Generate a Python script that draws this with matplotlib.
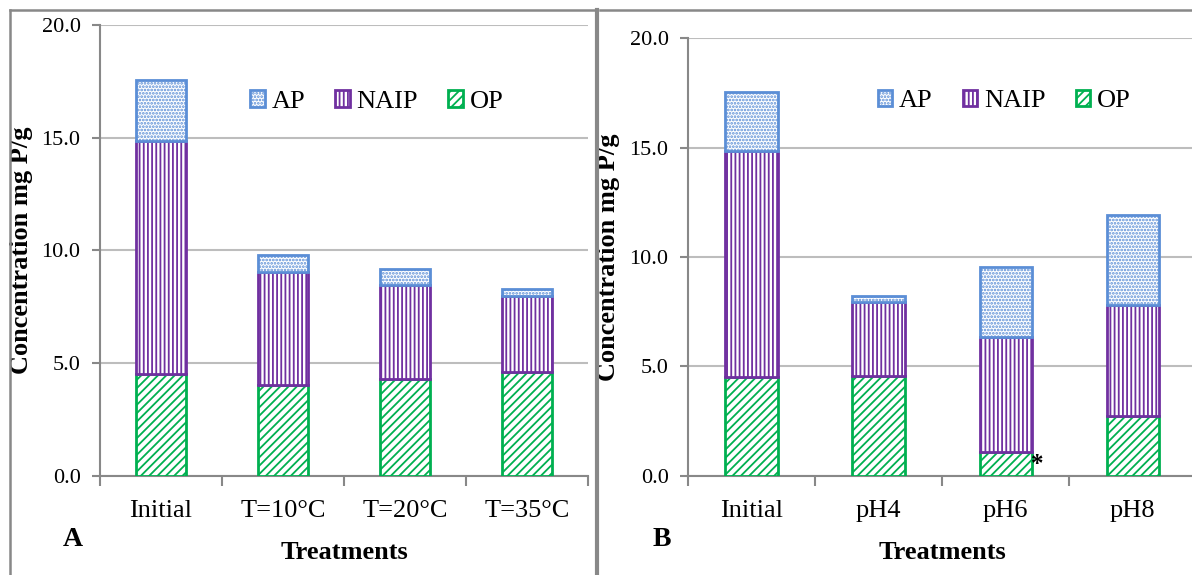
import matplotlib
import matplotlib.pyplot as plt
import numpy as np
from matplotlib.lines import Line2D

matplotlib.use("Agg")

plt.rcParams["font.family"] = ["Liberation Serif", "DejaVu Serif"]
plt.rcParams["hatch.linewidth"] = 1.3

# Panel A - temperature treatments
cats_a = ["Initial", "T=10°C", "T=20°C", "T=35°C"]
op_a = [4.52, 4.04, 4.30, 4.61]
naip_a = [10.32, 5.01, 4.17, 3.37]
ap_a = [2.74, 0.75, 0.71, 0.31]

# Panel B - pH treatments
cats_b = ["Initial", "pH4", "pH6", "pH8"]
op_b = [4.52, 4.57, 1.10, 2.74]
naip_b = [10.32, 3.38, 5.25, 5.07]
ap_b = [2.69, 0.27, 3.19, 4.11]

yticks = [0, 5, 10, 15, 20]

c_ap = "#5B8ED6"
c_naip = "#7030A0"
c_op = "#00B050"
grid_c = "#BDBDBD"
axis_c = "#888888"

W, H = 1192, 575
fig = plt.figure(figsize=(W / 100, H / 100), dpi=100)


def panel(rect, cats, op, naip, ap, letter, letter_xy, ylab_x, leg_pos):
    ax = fig.add_axes(rect)
    x = np.arange(len(cats))
    w = 0.41
    b1 = ax.bar(x, op, w, color="white", edgecolor=c_op, hatch="////", linewidth=2, label="OP", zorder=3)
    bottom2 = np.array(op)
    b2 = ax.bar(x, naip, w, bottom=bottom2, color="white", edgecolor=c_naip, hatch="||||", linewidth=2,
                label="NAIP", zorder=3)
    bottom3 = bottom2 + np.array(naip)
    b3 = ax.bar(x, ap, w, bottom=bottom3, color="white", edgecolor=c_ap, hatch=".....", linewidth=2,
                label="AP", zorder=3)

    ax.set_xlim(-0.5, len(cats) - 0.5)
    ax.set_ylim(0, 20)
    ax.set_yticks(yticks)
    ax.set_yticklabels([f"{v:.1f}" for v in yticks], fontsize=16)
    ax.set_xticks(x)
    ax.set_xticklabels(cats, fontsize=19)
    ax.tick_params(axis="x", length=0, pad=17)
    ax.tick_params(axis="y", length=6, width=1.5, color=axis_c, pad=8)
    # category boundary ticks
    ax.set_xticks(np.arange(len(cats) + 1) - 0.5, minor=True)
    ax.tick_params(axis="x", which="minor", length=7, width=1.5, color=axis_c, direction="out")

    ax.grid(axis="y", color=grid_c, linewidth=1.5, zorder=0)
    ax.set_axisbelow(True)
    for s in ["top", "right"]:
        ax.spines[s].set_visible(False)
    for s in ["left", "bottom"]:
        ax.spines[s].set_color(axis_c)
        ax.spines[s].set_linewidth(1.5)

    ax.set_ylabel("Concentration mg P/g", fontsize=19, fontweight="bold")
    ax.yaxis.set_label_coords(ylab_x, 0.5)
    ax.set_xlabel("Treatments", fontsize=19, fontweight="bold", labelpad=14)
    fig.text(letter_xy[0] / W, 1 - letter_xy[1] / H, letter, fontsize=20, fontweight="bold",
             ha="center", va="center")

    ax.legend(handles=[b3, b2, b1], loc="center", bbox_to_anchor=leg_pos, ncol=3, frameon=False,
              fontsize=19, handlelength=0.55, handleheight=0.6, handletextpad=0.25,
              columnspacing=1.15)
    return ax


ax_a = panel([0.0839, 0.1722, 0.4094, 0.7843], cats_a, op_a, naip_a, ap_a, "A", (73, 540),
             -0.137, (0.567, 0.83))
ax_b = panel([0.5772, 0.1722, 0.4262, 0.7617], cats_b, op_b, naip_b, ap_b, "B", (662, 540),
             -0.134, (0.622, 0.856))

# asterisk next to pH6 OP segment
ax_b.text(2.2, 0.0, "*", fontsize=18, fontweight="bold", ha="left", va="bottom")

# panel frames
frame_kw = dict(color=axis_c, linewidth=1.8, transform=fig.transFigure)
fig.add_artist(Line2D([10 / W, 10 / W], [0, 1 - 10 / H], **frame_kw))
fig.add_artist(Line2D([10 / W, 596 / W], [1 - 10 / H, 1 - 10 / H], **frame_kw))
fig.add_artist(Line2D([600 / W, 1], [1 - 10 / H, 1 - 10 / H], **frame_kw))
fig.add_artist(Line2D([597 / W, 597 / W], [0, 1 - 10 / H], color=axis_c, linewidth=3,
                      transform=fig.transFigure))

fig.savefig("out.png", dpi=100)
